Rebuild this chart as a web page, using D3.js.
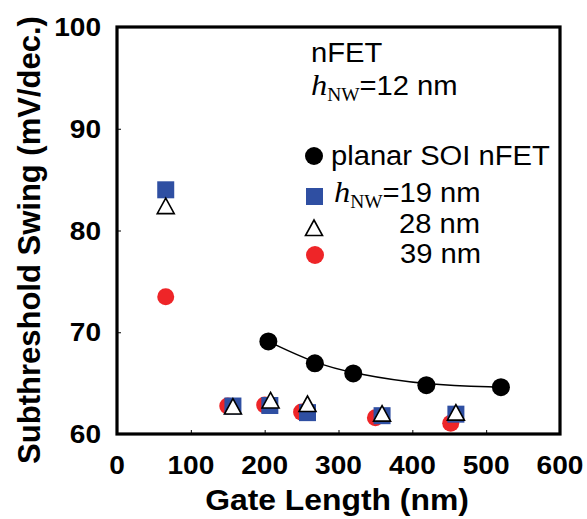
<!DOCTYPE html>
<html>
<head>
<meta charset="utf-8">
<script src="https://cdn.jsdelivr.net/npm/d3@7"></script>
<style>
  html, body { margin: 0; padding: 0; background: #fff; }
  svg { display: block; }
  text { font-family: "Liberation Sans", Arial, sans-serif; }
</style>
</head>
<body>
<svg id="chart" width="587" height="519"></svg>
<script>
// Subthreshold swing vs. gate length
const xTicks = [0, 100, 200, 300, 400, 500, 600];
const yTicks = [60, 70, 80, 90, 100];

// planar SOI nFET
const soiLength = [205, 268, 320, 419, 520];
const soiSwing  = [69.1, 66.95, 65.95, 64.8, 64.6];

// nanowire, h_NW = 19 nm
const nw19Length = [66, 157, 207, 258, 359, 459];
const nw19Swing  = [84.0, 62.75, 62.8, 62.1, 61.8, 61.95];

// nanowire, h_NW = 28 nm
const nw28Length = [66, 157, 208, 258, 359, 459];
const nw28Swing  = [82.3, 62.6, 63.2, 62.85, 61.9, 62.0];

// nanowire, h_NW = 39 nm
const nw39Length = [66, 150, 200, 250, 350, 452];
const nw39Swing  = [73.5, 62.75, 62.85, 62.15, 61.6, 61.05];

const blue = "#2f4fa2";
const red = "#ee2528";

const svg = d3.select("#chart");
const plotL = 117, plotR = 560, plotT = 27, plotB = 434;

const x = d3.scaleLinear().domain([0, 600]).range([plotL, plotR]);
const y = d3.scaleLinear().domain([60, 100]).range([plotB, plotT]);

// horizontal text is set slightly wide
const wide = 1.08;
const placeText = (sel, px, py) => sel.attr("transform", `translate(${px},${py}) scale(${wide},1)`);

// inward ticks
svg.append("g")
  .attr("transform", `translate(0,${plotB})`)
  .call(d3.axisTop(x).tickValues(xTicks).tickSize(4).tickFormat(""))
  .call(g => g.select(".domain").remove())
  .call(g => g.selectAll("line").attr("stroke", "#000").attr("stroke-width", 1));
svg.append("g")
  .attr("transform", `translate(${plotL},0)`)
  .call(d3.axisRight(y).tickValues(yTicks).tickSize(4).tickFormat(""))
  .call(g => g.select(".domain").remove())
  .call(g => g.selectAll("line").attr("stroke", "#000").attr("stroke-width", 1));

// tick labels
svg.append("g").selectAll("text").data(xTicks).join("text")
  .each(function (d) { placeText(d3.select(this), x(d), 474); })
  .attr("text-anchor", "middle")
  .attr("font-size", 26).attr("font-weight", "bold")
  .text(d => d);
svg.append("g").selectAll("text").data(yTicks).join("text")
  .each(function (d) { placeText(d3.select(this), 101, y(d) + 9); })
  .attr("text-anchor", "end")
  .attr("font-size", 26).attr("font-weight", "bold")
  .text(d => d);

// axis titles
placeText(svg.append("text"), 337, 510)
  .attr("text-anchor", "middle")
  .attr("font-size", 29.5).attr("font-weight", "bold")
  .text("Gate Length (nm)");
svg.append("text")
  .attr("transform", "translate(40,240) rotate(-90)")
  .attr("text-anchor", "middle")
  .attr("font-size", 31).attr("font-weight", "bold")
  .text("Subthreshold Swing (mV/dec.)");

// frame
svg.append("rect")
  .attr("x", plotL).attr("y", plotT)
  .attr("width", plotR - plotL).attr("height", plotB - plotT)
  .attr("fill", "none").attr("stroke", "#000").attr("stroke-width", 3.2);

// SOI trend curve
const soi = soiLength.map((d, i) => [d, soiSwing[i]]);
svg.append("path")
  .datum(soi)
  .attr("fill", "none").attr("stroke", "#000").attr("stroke-width", 1.5)
  .attr("d", d3.line().x(d => x(d[0])).y(d => y(d[1])).curve(d3.curveBasis));

// 39 nm circles (drawn first, underneath)
svg.append("g").selectAll("circle").data(nw39Length).join("circle")
  .attr("cx", d => x(d)).attr("cy", (d, i) => y(nw39Swing[i]))
  .attr("r", 8.5).attr("fill", red);

// 19 nm squares
const sq = 17;
svg.append("g").selectAll("rect").data(nw19Length).join("rect")
  .attr("x", d => x(d) - sq / 2).attr("y", (d, i) => y(nw19Swing[i]) - sq / 2)
  .attr("width", sq).attr("height", sq).attr("fill", blue);

// 28 nm triangles
const tri = (cx, cy) => `M${cx},${cy - 9} L${cx + 8.5},${cy + 6.5} L${cx - 8.5},${cy + 6.5} Z`;
svg.append("g").selectAll("path").data(nw28Length).join("path")
  .attr("d", (d, i) => tri(x(d), y(nw28Swing[i])))
  .attr("fill", "#fff").attr("stroke", "#000").attr("stroke-width", 1.6)
  .attr("stroke-linejoin", "miter");

// SOI circles
svg.append("g").selectAll("circle").data(soiLength).join("circle")
  .attr("cx", d => x(d)).attr("cy", (d, i) => y(soiSwing[i]))
  .attr("r", 9).attr("fill", "#000");

// annotation
const note = svg.append("g").attr("font-size", 27);
placeText(note.append("text"), 311, 62).text("nFET");
const hLabel = (g, xx, yy, rest) => {
  const t = placeText(g.append("text"), xx, yy);
  t.append("tspan").attr("font-family", "Liberation Serif, serif").attr("font-style", "italic").attr("font-size", 30).text("h");
  t.append("tspan").attr("font-family", "Liberation Serif, serif").attr("font-size", 18).attr("dy", 6).text("NW");
  t.append("tspan").attr("dy", -6).text(rest);
};
hLabel(note, 311, 95, "=12 nm");

// legend
const legend = svg.append("g").attr("font-size", 27);
legend.append("circle").attr("cx", 314).attr("cy", 156).attr("r", 9).attr("fill", "#000");
placeText(legend.append("text"), 331, 165).text("planar SOI nFET");
legend.append("rect").attr("x", 306).attr("y", 188).attr("width", sq).attr("height", sq).attr("fill", blue);
hLabel(legend, 334, 202, "=19 nm");
legend.append("path").attr("d", tri(314, 229)).attr("fill", "#fff").attr("stroke", "#000").attr("stroke-width", 1.6);
placeText(legend.append("text"), 399, 233).text("28 nm");
legend.append("circle").attr("cx", 315).attr("cy", 255).attr("r", 9).attr("fill", red);
placeText(legend.append("text"), 400, 263).text("39 nm");
</script>
</body>
</html>
